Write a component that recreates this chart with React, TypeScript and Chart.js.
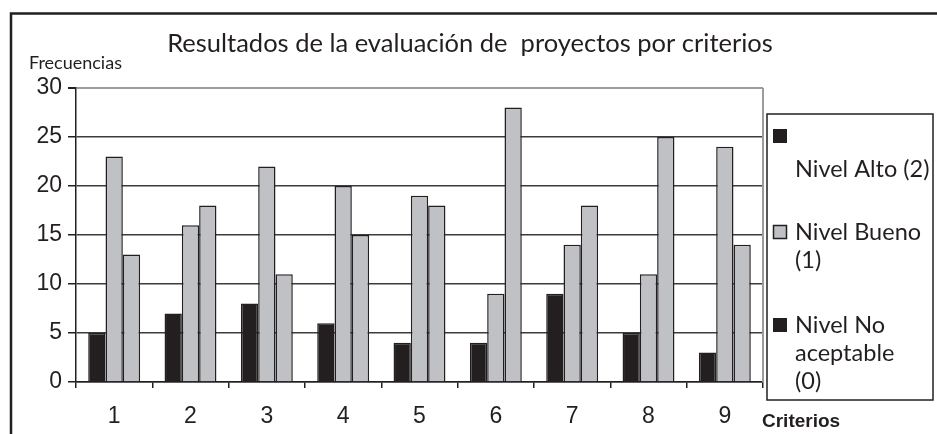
import React, { useEffect, useRef } from "react";
import { Chart, registerables } from "chart.js";

Chart.register(...registerables);

const CATEGORIES = ["1", "2", "3", "4", "5", "6", "7", "8", "9"];
const NIVEL_ALTO = [5, 7, 8, 6, 4, 4, 9, 5, 3];
const NIVEL_BUENO = [23, 16, 22, 20, 19, 9, 14, 11, 24];
const NIVEL_NO_ACEPTABLE = [13, 18, 11, 15, 18, 28, 18, 25, 14];
const SERIES_LABELS = ["Nivel Alto (2)", "Nivel Bueno (1)", "Nivel No aceptable (0)"];
const BAR_COLORS = ["#231f20", "#c0c1c5", "#c0c1c5"];
const LEGEND_SWATCHES = ["#231f20", "#c0c1c5", "#231f20"];
const LEGEND_LINES = [["", "Nivel Alto (2)"], ["Nivel Bueno", "(1)"], ["Nivel No", "aceptable", "(0)"]];
const Y_MIN = 0;
const Y_MAX = 30;
const Y_STEP = 5;
const TITLE = "Resultados de la evaluación de  proyectos por criterios";
const Y_TITLE = "Frecuencias";
const X_TITLE = "Criterios";

const W = 937;
const H = 434;
const HUMANIST = "Lato, 'Open Sans', sans-serif";
const ARIAL = "'Liberation Sans', Arial, sans-serif";
const INK = "#231f20";

const decorPlugin = {
  id: "decor",
  afterDraw(chart: any) {
    const ctx = chart.ctx as CanvasRenderingContext2D;
    const a = chart.chartArea;
    ctx.save();
    // outer frame (left + top)
    ctx.strokeStyle = INK;
    ctx.lineWidth = 2.5;
    ctx.beginPath();
    ctx.moveTo(11, H);
    ctx.lineTo(11, 13.5);
    ctx.lineTo(W, 13.5);
    ctx.stroke();
    // plot area right border
    ctx.strokeStyle = "#9c9c9c";
    ctx.lineWidth = 2;
    ctx.beginPath();
    ctx.moveTo(a.right, a.top);
    ctx.lineTo(a.right, a.bottom);
    ctx.stroke();
    // title
    ctx.fillStyle = INK;
    ctx.textBaseline = "alphabetic";
    ctx.textAlign = "center";
    ctx.font = `25.5px ${HUMANIST}`;
    ctx.fillText(TITLE, 470, 52);
    // y title
    ctx.textAlign = "left";
    ctx.font = `18px ${HUMANIST}`;
    ctx.fillText(Y_TITLE, 29, 69);
    // x title
    ctx.font = `bold 19px ${ARIAL}`;
    ctx.fillText(X_TITLE, 762, 427);
    // legend box
    const bx = 767, by = 114, bw = 166, bh = 286;
    ctx.fillStyle = "#ffffff";
    ctx.fillRect(bx, by, bw, bh);
    ctx.strokeStyle = INK;
    ctx.lineWidth = 1.5;
    ctx.strokeRect(bx, by, bw, bh);
    ctx.save();
    ctx.beginPath();
    ctx.rect(bx, by, bw - 1, bh);
    ctx.clip();
    const itemTops = [129, 225, 318];
    const lineH = 28;
    ctx.font = `23.5px ${HUMANIST}`;
    ctx.textBaseline = "middle";
    chart.data.datasets.forEach((ds: any, i: number) => {
      const sy = itemTops[i];
      ctx.fillStyle = LEGEND_SWATCHES[i];
      ctx.fillRect(773, sy, 14, 14);
      if (LEGEND_SWATCHES[i] !== INK) {
        ctx.strokeStyle = INK;
        ctx.lineWidth = 1.5;
        ctx.strokeRect(773.5, sy + 0.5, 13, 13);
      }
      ctx.fillStyle = INK;
      const lines = LEGEND_LINES[i];
      const firstY = lines[0] === "" ? sy + 7 + 3 : sy + 7;
      lines.forEach((t, j) => {
        if (t) ctx.fillText(t, 795, firstY + j * lineH + (lines[0] === "" ? 2 : 0));
      });
    });
    ctx.restore();
    ctx.restore();
  },
};

export default function App() {
  const ref = useRef<HTMLCanvasElement | null>(null);
  useEffect(() => {
    if (!ref.current) return;
    const series = [NIVEL_ALTO, NIVEL_BUENO, NIVEL_NO_ACEPTABLE];
    const chart = new Chart(ref.current, {
      type: "bar",
      data: {
        labels: CATEGORIES,
        datasets: series.map((d, i) => ({
          label: SERIES_LABELS[i],
          data: d,
          backgroundColor: BAR_COLORS[i],
          borderColor: INK,
          borderWidth: 1.5,
          categoryPercentage: 0.68,
          barPercentage: 1,
        })),
      },
      options: {
        responsive: false,
        animation: false,
        devicePixelRatio: 1,
        layout: { padding: { left: 0, top: 88, right: W - 763, bottom: 0 } },
        plugins: {
          legend: { display: false },
          title: { display: false },
          tooltip: { enabled: false },
        },
        scales: {
          x: {
            afterFit: (s: any) => {
              s.height = H - 382;
            },
            grid: {
              drawOnChartArea: false,
              drawTicks: true,
              tickLength: 6,
              color: INK,
              lineWidth: 1.5,
              offset: true,
            },
            border: { display: true, color: INK, width: 1.5 },
            ticks: {
              color: INK,
              font: { family: ARIAL, size: 23 },
              padding: 15,
            },
          },
          y: {
            min: Y_MIN,
            max: Y_MAX,
            afterFit: (s: any) => {
              s.width = 76;
            },
            grid: {
              color: (c: any) => (c.tick && c.tick.value === Y_MAX ? "#9c9c9c" : "#3c3c3c"),
              lineWidth: (c: any) => (c.tick && c.tick.value === Y_MAX ? 2 : 1.5),
              tickColor: INK,
              tickLength: 8,
            },
            border: { display: true, color: INK, width: 1.5 },
            ticks: {
              stepSize: Y_STEP,
              color: INK,
              font: { family: ARIAL, size: 23 },
              padding: 6,
            },
          },
        },
      },
      plugins: [decorPlugin],
    });
    return () => chart.destroy();
  }, []);
  return (
    <div style={{ position: "absolute", left: 0, top: 0, width: W, height: H, background: "#fff" }}>
      <canvas ref={ref} width={W} height={H} style={{ width: W, height: H, display: "block" }} />
    </div>
  );
}
